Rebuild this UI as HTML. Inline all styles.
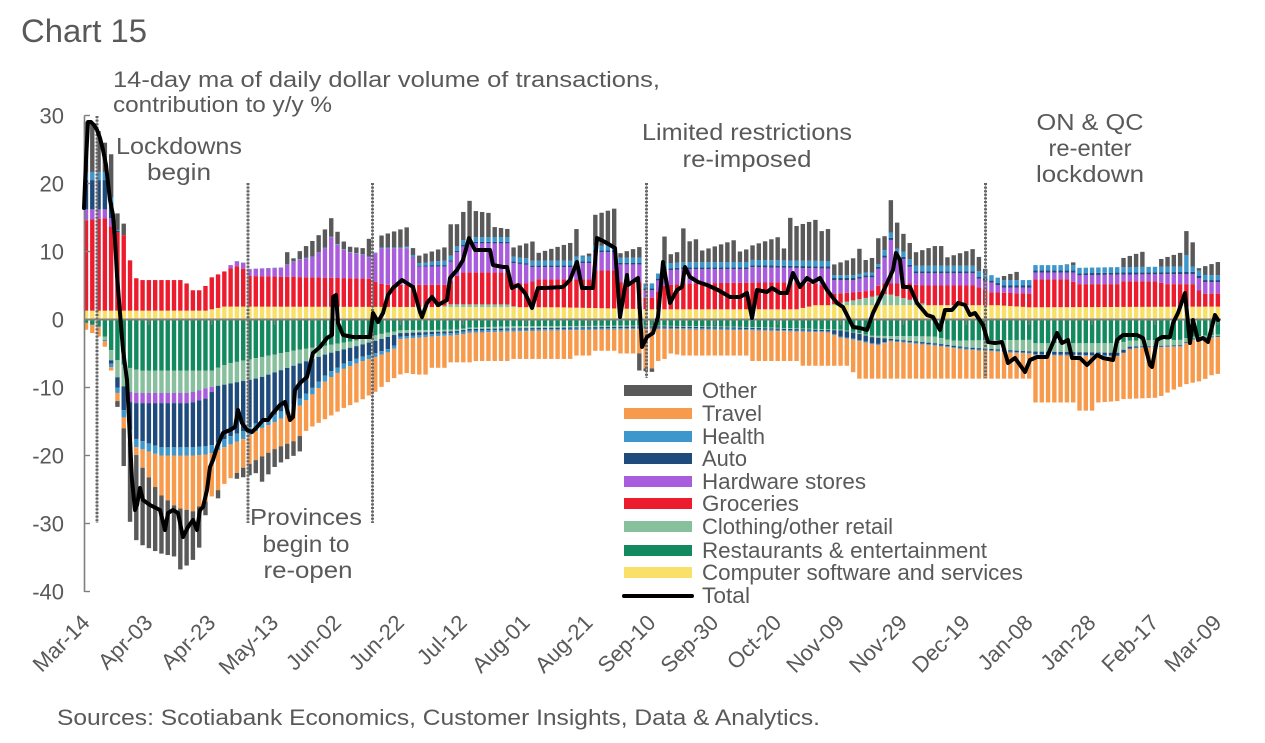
<!DOCTYPE html>
<html><head><meta charset="utf-8">
<style>
html,body{margin:0;padding:0;background:#fff;}
svg{display:block;}
text{font-family:"Liberation Sans",Arial,sans-serif;fill:#595959;}
</style></head>
<body>
<svg id="c" width="1265" height="743" viewBox="0 0 1265 743" xmlns="http://www.w3.org/2000/svg">
<rect width="1265" height="743" fill="#fff"/>
<g id="bars"></g>
<g id="dash" fill="none">
  <g stroke="#a6a6a6" stroke-width="1.2">
    <line x1="97" y1="116" x2="97" y2="523"/>
    <line x1="248" y1="183" x2="248" y2="523"/>
    <line x1="372.5" y1="183" x2="372.5" y2="523"/>
    <line x1="646.5" y1="183" x2="646.5" y2="378"/>
    <line x1="985.5" y1="183" x2="985.5" y2="378"/>
  </g>
  <g stroke="#666" stroke-width="3" stroke-dasharray="2 1.6">
    <line x1="97" y1="116" x2="97" y2="523"/>
    <line x1="248" y1="183" x2="248" y2="523"/>
    <line x1="372.5" y1="183" x2="372.5" y2="523"/>
    <line x1="646.5" y1="183" x2="646.5" y2="378"/>
    <line x1="985.5" y1="183" x2="985.5" y2="378"/>
  </g>
</g>
<g id="axes" stroke="#7f7f7f" fill="none">
  <line x1="84.5" y1="115.5" x2="84.5" y2="592" stroke-width="1.6"/>
  <line x1="84" y1="319.5" x2="1221" y2="319.5" stroke-width="2"/>
  <g stroke-width="1.4">
    <line x1="84.5" y1="115.5" x2="90" y2="115.5"/>
    <line x1="84.5" y1="183.5" x2="90" y2="183.5"/>
    <line x1="84.5" y1="251.5" x2="90" y2="251.5"/>
    <line x1="84.5" y1="387.5" x2="90" y2="387.5"/>
    <line x1="84.5" y1="455.5" x2="90" y2="455.5"/>
    <line x1="84.5" y1="523.5" x2="90" y2="523.5"/>
    <line x1="84.5" y1="591.5" x2="90" y2="591.5"/>
  </g>
  <g id="xt" stroke-width="1.4"></g>
</g>
<polyline fill="none" stroke="#000" stroke-width="4" stroke-linejoin="round" stroke-linecap="round" points="84,208 86,160 88,122 91,122 94,125 97,130 100,138 103,150 106,165 108,183 110,200 113,215 115,240 117,275 120,313 123,350 127,380 130,440 132,480 135,510 137,505 140,488 143,500 150,505 160,510 165,530 168,513 173,510 178,513 183,537 188,527 193,520 197,530 200,510 203,507 207,490 210,467 213,460 217,447 223,433 230,430 235,427 238,410 242,423 247,430 252,432 257,427 263,420 268,420 273,413 280,405 285,402 290,420 293,417 295,390 300,383 307,377 313,353 320,347 327,338 332,335 333,297 336,295 338,323 343,335 353,337 370,337 373,313 378,322 383,313 388,295 393,288 402,280 413,287 420,312 422,317 427,303 432,297 438,305 447,300 450,278 457,270 463,260 469,238 475,250 490,250 493,265 503,267 507,267 512,288 518,285 525,293 532,308 538,288 545,288 563,287 570,280 577,262 582,288 593,288 597,238 605,242 615,248 620,317 627,275 628,285 638,278 642,347 647,337 653,333 658,317 663,262 670,303 677,290 682,287 685,267 690,277 698,282 707,285 718,290 730,297 740,297 747,293 752,318 757,290 767,292 772,288 780,293 787,293 793,273 800,287 807,278 813,282 820,278 827,290 837,303 843,307 853,327 860,328 867,330 873,313 883,292 893,270 896,253 900,260 903,287 910,287 917,303 927,315 933,317 940,330 945,310 952,310 958,303 965,305 970,315 975,313 983,325 988,342 995,343 1002,342 1008,363 1015,358 1025,372 1030,360 1037,357 1047,357 1057,333 1062,343 1068,340 1072,358 1080,358 1087,365 1097,355 1103,358 1113,360 1117,340 1123,335 1137,335 1143,338 1150,365 1152,367 1157,340 1162,337 1170,337 1173,323 1178,313 1185,293 1190,343 1193,320 1198,340 1203,338 1208,342 1215,315 1218,320"/>

<!-- Title & annotations -->
<text x="21" y="42" font-size="32" textLength="126" lengthAdjust="spacingAndGlyphs">Chart 15</text>
<text x="113" y="87" font-size="22" textLength="547" lengthAdjust="spacingAndGlyphs">14-day ma of daily dollar volume of transactions,</text>
<text x="113" y="112" font-size="22" textLength="219" lengthAdjust="spacingAndGlyphs">contribution to y/y %</text>
<g font-size="23" text-anchor="middle">
<text x="179" y="154" textLength="126" lengthAdjust="spacingAndGlyphs">Lockdowns</text>
<text x="179" y="180" textLength="64" lengthAdjust="spacingAndGlyphs">begin</text>
<text x="747" y="140" textLength="210" lengthAdjust="spacingAndGlyphs">Limited restrictions</text>
<text x="747" y="167" textLength="129" lengthAdjust="spacingAndGlyphs">re-imposed</text>
<text x="1090" y="130" textLength="107" lengthAdjust="spacingAndGlyphs">ON &amp; QC</text>
<text x="1090" y="156" textLength="83" lengthAdjust="spacingAndGlyphs">re-enter</text>
<text x="1090" y="182" textLength="108" lengthAdjust="spacingAndGlyphs">lockdown</text>
<text x="306" y="525" textLength="112" lengthAdjust="spacingAndGlyphs">Provinces</text>
<text x="306" y="552" textLength="87" lengthAdjust="spacingAndGlyphs">begin to</text>
<text x="308" y="578" textLength="89" lengthAdjust="spacingAndGlyphs">re-open</text>
</g>

<!-- Y labels -->
<g font-size="22" text-anchor="end">
<text x="64" y="123.5">30</text>
<text x="64" y="191.5">20</text>
<text x="64" y="259.5">10</text>
<text x="64" y="327.5">0</text>
<text x="64" y="395.5">-10</text>
<text x="64" y="463.5">-20</text>
<text x="64" y="531.5">-30</text>
<text x="64" y="599.5">-40</text>
</g>
<g id="xl" font-size="22" text-anchor="end"></g>

<!-- Legend -->
<g>
<rect x="624" y="385" width="68" height="11" fill="#595959"/>
<rect x="624" y="408" width="68" height="11" fill="#F79A4B"/>
<rect x="624" y="431" width="68" height="11" fill="#3D96CC"/>
<rect x="624" y="453" width="68" height="11" fill="#1F4A7C"/>
<rect x="624" y="476" width="68" height="11" fill="#A95CDB"/>
<rect x="624" y="498" width="68" height="11" fill="#EC1C2E"/>
<rect x="624" y="521" width="68" height="11" fill="#88C09E"/>
<rect x="624" y="545" width="68" height="11" fill="#12895E"/>
<rect x="624" y="567" width="68" height="11" fill="#F9E068"/>
<line x1="624" y1="596" x2="692" y2="596" stroke="#000" stroke-width="4" stroke-linecap="round"/>
</g>
<g font-size="22">
<text x="702" y="398" textLength="55" lengthAdjust="spacingAndGlyphs">Other</text>
<text x="702" y="421" textLength="60" lengthAdjust="spacingAndGlyphs">Travel</text>
<text x="702" y="444" textLength="63" lengthAdjust="spacingAndGlyphs">Health</text>
<text x="702" y="466" textLength="45" lengthAdjust="spacingAndGlyphs">Auto</text>
<text x="702" y="489" textLength="164" lengthAdjust="spacingAndGlyphs">Hardware stores</text>
<text x="702" y="511" textLength="97" lengthAdjust="spacingAndGlyphs">Groceries</text>
<text x="702" y="534" textLength="191" lengthAdjust="spacingAndGlyphs">Clothing/other retail</text>
<text x="702" y="558" textLength="285" lengthAdjust="spacingAndGlyphs">Restaurants &amp; entertainment</text>
<text x="702" y="580" textLength="321" lengthAdjust="spacingAndGlyphs">Computer software and services</text>
<text x="702" y="603" textLength="48" lengthAdjust="spacingAndGlyphs">Total</text>
</g>

<text x="57" y="725" font-size="22" textLength="763" lengthAdjust="spacingAndGlyphs">Sources: Scotiabank Economics, Customer Insights, Data &amp; Analytics.</text>
</svg>

<script>
(function(){
var NS="http://www.w3.org/2000/svg";
var X0=86,DX=3.144,Y0=319.5,SY=6.8;
function yv(v){return Y0-v*SY;}
function L(p,d){
  if(d<=p[0][0])return p[0][1];
  for(var k=1;k<p.length;k++){
    if(d<=p[k][0]){var d0=p[k-1][0],v0=p[k-1][1],d1=p[k][0],v1=p[k][1];
      return d1==d0?v1:v0+(v1-v0)*(d-d0)/(d1-d0);}
  }
  return p[p.length-1][1];
}
var C={oth:"#595959",tra:"#F79A4B",hea:"#3D96CC",aut:"#1F4A7C",har:"#A95CDB",gro:"#EC1C2E",clo:"#88C09E",res:"#12895E",com:"#F9E068"};

var P1=[[0,1.3],[38,1.3],[44,1.9],[150,1.8],[180,1.5],[226,1.5],[232,2.1],[290,2.1],[300,1.8],[360,1.9]];
var CP=[[0,0],[112,0],[116,0.4],[134,0.4],[137,0],[236,0],[245,0.8],[255,1.7],[262,0.8],[268,0],[360,0]];
var P3=[[0,14.6],[6,14.9],[9,13.1],[12,12.4],[14,8.7],[15.5,6.2],[17,5.8],[31,5.8],[34,4.3],[37,4.3],[40,6.2],[46,7.5],[49,8],[52,6.4],[90,6.0],[93,5.3],[96,5.1],[115,5.1],[117,6.2],[120,6.9],[134,6.9],[136,5.3],[141,5.3],[143,5.9],[161,5.9],[162,7.2],[169,7.2],[170,5.5],[176,5.5],[178,3.2],[181,3.2],[183,4.9],[190,5.3],[226,5.5],[233,5.3],[238,3.8],[245,4.0],[250,4.3],[253,5.3],[262,5.3],[265,5.0],[282,5.0],[285,4.6],[288,4.0],[300,3.8],[302,5.9],[313,5.9],[315,5.2],[328,5.2],[330,5.6],[341,5.6],[343,5.2],[352,5.2],[355,3.8],[360,3.8]];
var P4=[[0,16.2],[7,16.2],[9,13.6],[11,0],[40,0],[44,6.8],[46,8.0],[49,8.8],[52,7.4],[62,7.6],[67,8.7],[72,9.2],[76,10.5],[78,12.1],[80,11],[83,9.9],[88,9.5],[91,9.0],[93,10.5],[103,10.5],[105,7.8],[115,7.8],[117,9.2],[119,10.6],[123,11.2],[135,11.2],[136,8.3],[141,8.0],[142,7.7],[155,7.7],[156,8.3],[161,8.3],[162,9.9],[169,9.9],[170,8.1],[176,8.1],[177,4.3],[181,4.3],[183,7.2],[190,7.4],[211,7.4],[212,7.7],[236,7.5],[238,5.8],[245,5.8],[247,6.2],[251,6.2],[253,8.7],[255,9.5],[256,11.7],[257,9.5],[261,8.7],[263,6.8],[282,6.8],[284,6.0],[287,5.6],[292,4.7],[300,4.7],[302,6.9],[314,6.9],[316,6.5],[328,6.6],[353,6.7],[355,5.5],[360,5.5]];
var AP=[[0,4.3],[7,4.3],[9,0.3],[11,0],[100,0],[110,0.2],[236,0.3],[360,0.3]];
var HP=[[0,1.2],[7,1.2],[9,0.3],[11,0],[100,0.1],[115,0.7],[236,0.8],[238,0.4],[252,0.4],[254,0.8],[348,0.8],[350,2.5],[352,0.8],[360,0.7]];
var P7=[[0,30],[2,29.5],[4,28],[6,26],[8,24],[9,16],[10,15],[12,13.2],[14,9],[15,0],[60,0],[64,9],[68,10.5],[72,11.4],[76,12.5],[78,15.8],[80,13.5],[83,10.9],[88,9.9],[91,11.5],[92,9.7],[93,12.8],[103,12.8],[105,10],[115,10],[116,13.1],[119,15.6],[122,17.6],[124,15.8],[135,13.4],[136,10.6],[155,10.5],[156,14.2],[157,10],[161,10],[162,15.4],[169,15.4],[170,10.5],[176,10.5],[177,5.3],[181,5.3],[182,6],[184,12.8],[185,9.9],[189,9.9],[190,13.1],[191,10.9],[211,10.9],[212,11.2],[223,11.2],[224,15.4],[225,13.9],[236,13.9],[237,8.4],[245,8.4],[246,9.5],[250,9.5],[251,12.1],[255,12.1],[256,17.1],[257,13.5],[261,13.5],[263,10.2],[270,10.2],[271,9.9],[282,9.9],[283,8.5],[287,8.3],[288,6.4],[296,6.4],[297,5.6],[300,5.6],[301,6.9],[310,6.9],[311,9],[314,9],[315,7.5],[328,7.5],[329,9.2],[336,9.2],[337,8],[341,8],[342,9.2],[349,9.2],[350,12.1],[352,12.1],[353,8],[360,8]];

var N1=[[0,-0.5],[4,-1],[6,-2.5],[8,-4.5],[10,-6],[13,-7],[17,-7.5],[40,-7.5],[45,-6.5],[55,-5.6],[66,-4.6],[77,-3.8],[87,-3.0],[93,-2.2],[100,-1.6],[118,-1.5],[122,-1.2],[136,-1.0],[180,-0.9],[210,-1.1],[240,-1.5],[245,-1.9],[250,-2.4],[270,-2.5],[275,-3.1],[300,-3.0],[302,-3.5],[328,-3.5],[332,-3.1],[348,-3.0],[352,-2.5],[360,-2.2]];
var N2=[[0,-0.5],[4,-1],[6,-3],[8,-6],[10,-8.5],[13,-10.5],[15,-10.8],[33,-10.8],[39,-10],[45,-9.5],[55,-8.6],[66,-6.8],[77,-5],[87,-3.8],[93,-3.0],[100,-2.0],[118,-1.7],[122,-1.4],[180,-1.0],[210,-1.2],[240,-1.6],[245,-2.0],[250,-2.6],[270,-3.5],[280,-4.1],[300,-4.7],[328,-4.9],[332,-4.0],[348,-3.8],[352,-2.8],[360,-2.4]];
var PN=[[0,0],[12,0],[14,1.5],[38,1.5],[42,0],[360,0]];
var N4=[[0,-0.5],[4,-1],[6,-3],[8,-6.5],[10,-10],[13,-15],[15,-17.4],[23.5,-18.8],[34,-18.8],[39.4,-18.6],[44.8,-17.4],[50,-16.4],[55,-15],[60.6,-13.9],[66,-12.4],[71,-10.5],[76.6,-8],[82,-6.5],[87,-5.6],[92.5,-4.9],[97.7,-4.1],[100,-2.3]];
var AN=[[100,0.5],[110,0.3],[135,0.2],[236,0.2],[240,0.9],[252,0.9],[256,0.2],[300,0.2],[302,0.4],[330,0.4],[335,0.1],[360,0.1]];
var HN=[[0,0],[6,0.2],[10,0.8],[13,1.2],[50,1.2],[70,1.0],[90,0.6],[100,0.4],[150,0.2],[360,0.1]];
var N6=[[0,-1.5],[2,-2],[4,-2.5],[6,-4],[8,-7.5],[10,-12],[12,-16],[15,-19],[18,-21.8],[23.5,-25.7],[29,-27.7],[34,-28.2],[39.4,-26.3],[44.8,-23.8],[50,-21.8],[55,-20.4],[60.6,-18.9],[66,-17.9],[71,-16],[76.6,-14.5],[82,-13],[87,-12],[92.5,-10.5],[95,-9.5],[97.7,-8.7],[101,-7.8],[105,-8.1],[108,-8.1],[110,-7.1],[115,-7.1],[116,-6.3],[122,-6.3],[123,-6.1],[135,-6.1],[136,-5.8],[155,-5.8],[156,-5.3],[161,-5.3],[162,-4.6],[169,-4.6],[170,-5],[176,-5],[177,-7.2],[181,-7.2],[182,-6.1],[184,-5.8],[186,-5],[190,-5.3],[211,-5.3],[212,-6.1],[226,-6.1],[227,-6.8],[243,-6.8],[245,-8.7],[300,-8.7],[301,-12.2],[314,-12.2],[315,-13.4],[320,-13.4],[322,-12.2],[328,-12],[330,-11.7],[341,-11.5],[345,-10.5],[350,-9.5],[355,-9.0],[358,-8.2],[360,-8]];
var N7=[[0,0],[9,0],[10,-13],[12,-22],[14,-30.5],[18,-32.6],[23.5,-34.6],[29,-36],[31,-36],[34,-35.2],[36,-33.7],[39,-27],[41.6,-25.7],[44.8,-23.3],[50,-23.5],[55,-23.5],[60.6,-21.3],[66,-20.8],[68,-18.5],[70,0],[175,0],[176,-7.2],[181,-8.2],[182,0],[360,0]];

function nz(i){return (((i*7919+13)%13)/12-0.5)*1.8;}
var g=document.getElementById("bars");
var bw=4.4;
function rect(x,a,b,col){
  if(b-a<0.04)return;
  var r=document.createElementNS(NS,"rect");
  r.setAttribute("x",(x-bw/2).toFixed(2));
  r.setAttribute("y",yv(b).toFixed(2));
  r.setAttribute("width",bw);
  r.setAttribute("height",((b-a)*SY).toFixed(2));
  r.setAttribute("fill",col);
  g.appendChild(r);
}
for(var i=0;i<=180;i++){
  var d=2*i, x=X0+d*DX;
  var p1=L(P1,d), p2=p1+L(CP,d), p3=Math.max(p2,L(P3,d)), p4=Math.max(p3,L(P4,d));
  var p5=p4+L(AP,d), p6=p5+L(HP,d), p7r=L(P7,d);
  var p7=p7r>p6+0.2?Math.max(p6,p7r+nz(i)):p6;
  rect(x,0,p1,C.com);rect(x,p1,p2,C.clo);rect(x,p2,p3,C.gro);rect(x,p3,p4,C.har);
  rect(x,p4,p5,C.aut);rect(x,p5,p6,C.hea);rect(x,p6,p7,C.oth);
  var n1=Math.min(0,L(N1,d)), n2=Math.min(n1,L(N2,d)), n3=n2-L(PN,d);
  var n4=d<100?Math.min(n3,L(N4,d)):n3-L(AN,d);
  var n5=n4-L(HN,d), n6=Math.min(n5,L(N6,d)), n7r=L(N7,d);
  var n7=n7r<n6-0.2?Math.min(n6,n7r+nz(i+5)):n6;
  rect(x,n1,0,C.res);rect(x,n2,n1,C.clo);rect(x,n3,n2,C.har);rect(x,n4,n3,C.aut);
  rect(x,n5,n4,C.hea);rect(x,n6,n5,C.tra);rect(x,n7,n6,C.oth);
}
var labs=["Mar-14","Apr-03","Apr-23","May-13","Jun-02","Jun-22","Jul-12","Aug-01","Aug-21","Sep-10","Sep-30","Oct-20","Nov-09","Nov-29","Dec-19","Jan-08","Jan-28","Feb-17","Mar-09"];
var xl=document.getElementById("xl"), xt=document.getElementById("xt");
for(var k=0;k<labs.length;k++){
  var tx=X0+k*20*DX;
  if(k>0){var l=document.createElementNS(NS,"line");
    l.setAttribute("x1",tx);l.setAttribute("x2",tx);l.setAttribute("y1",319.5);l.setAttribute("y2",325);xt.appendChild(l);}
  var t=document.createElementNS(NS,"text");
  var ax=tx+5, ay=624;
  t.setAttribute("x",ax);t.setAttribute("y",ay);
  t.setAttribute("transform","rotate(-45 "+ax+" "+ay+")");
  t.textContent=labs[k];
  xl.appendChild(t);
}
})();
</script>
</body></html>
